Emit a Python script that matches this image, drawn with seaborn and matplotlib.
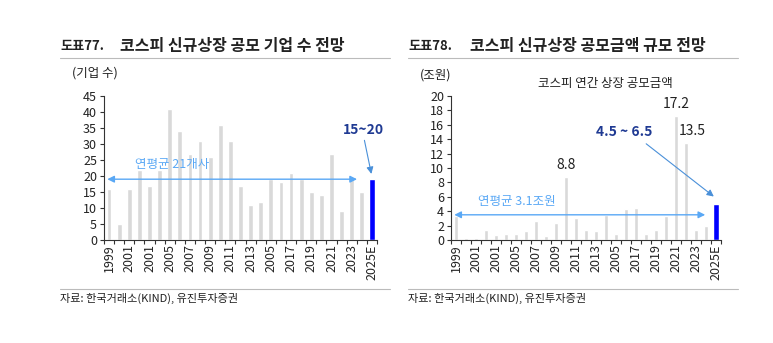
import matplotlib
matplotlib.use("Agg")
import matplotlib.pyplot as plt
import seaborn as sns
import pandas as pd
import numpy as np

# ---- data ----
years = [str(y) for y in range(1999, 2025)] + ["2025E"]
tick_labels = ["1999", "2001", "2001", "2005", "2007", "2009", "2011", "2013",
               "2005", "2017", "2019", "2021", "2023", "2025E"]
ipo_count = [16, 5, 16, 22, 17, 22, 41, 34, 27, 31, 26, 36, 31, 17, 11, 12,
             19, 18, 21, 19, 15, 14, 27, 9, 19, 15, 19]
ipo_amount = [3.3, 0.3, 0.3, 1.4, 0.7, 0.8, 0.9, 1.3, 2.6, 0.6, 2.3, 8.8,
              3.1, 1.4, 1.2, 3.5, 0.9, 4.3, 4.5, 0.9, 1.4, 3.4, 17.2, 13.5,
              1.4, 2.0, 5.0]
kind = ["actual"] * 26 + ["estimate"]

sns.set_theme(style="white")
plt.rcParams["font.family"] = ["Noto Sans CJK KR", "DejaVu Sans"]

W, H = 773, 343
fig = plt.figure(figsize=(W / 100, H / 100), dpi=100)

def px_axes(x0, y_top, x1, y_bot):
    return fig.add_axes([x0 / W, 1 - y_bot / H, (x1 - x0) / W, (y_bot - y_top) / H])

GRAY = "#d9d9d9"
BLUE = "#0000ff"
LBLUE = "#5aa8f5"
NAVY = "#1f3a93"
TXT = "#222222"

def draw(ax, values, ymax, ystep):
    df = pd.DataFrame({"year": years, "value": values, "kind": kind})
    sns.barplot(data=df[df.kind == "actual"], x="year", y="value", order=years,
                color=GRAY, width=0.48, saturation=1, ax=ax)
    sns.barplot(data=df[df.kind == "estimate"], x="year", y="value", order=years,
                color=BLUE, width=0.68, saturation=1, ax=ax)
    ax.set_xlim(-0.5, 26.5)
    ax.set_ylim(0, ymax)
    ax.set_yticks(np.arange(0, ymax + 0.01, ystep))
    ax.set_xticks(range(0, 27, 2))
    ax.set_xticklabels(tick_labels, rotation=90, fontsize=9, color=TXT)
    ax.set_xticks(np.arange(-0.5, 27, 1), minor=True)
    ax.tick_params(axis="x", which="major", length=0, pad=3)
    ax.tick_params(axis="x", which="minor", length=3, width=0.8, color="#333333", bottom=True)
    ax.tick_params(axis="y", length=3, width=0.8, color="#333333", left=True,
                   labelsize=9, labelcolor=TXT, pad=2)
    ax.set_xlabel("")
    ax.set_ylabel("")
    for s in ["top", "right"]:
        ax.spines[s].set_visible(False)
    for s in ["left", "bottom"]:
        ax.spines[s].set_color("#333333")
        ax.spines[s].set_linewidth(0.8)

# ---- left chart ----
ax1 = px_axes(104, 96, 377, 240)
draw(ax1, ipo_count, 45, 5)
ax1.annotate("", xy=(-0.45, 19), xytext=(24.8, 19),
             arrowprops=dict(arrowstyle="<|-|>", color=LBLUE, lw=1, mutation_scale=10))
ax1.text(2.6, 23.5, "연평균 21개사", color=LBLUE, fontsize=9, va="center")
ax1.text(25.2, 34.5, "15~20", color=NAVY, fontsize=10, fontweight="bold", ha="center", va="center")
ax1.annotate("", xy=(26, 19.8), xytext=(25.2, 32),
             arrowprops=dict(arrowstyle="-|>", color="#4a90d9", lw=0.8, mutation_scale=10))

# ---- right chart ----
ax2 = px_axes(451, 96, 721, 240)
draw(ax2, ipo_amount, 20, 2)
ax2.annotate("", xy=(-0.45, 3.5), xytext=(25.2, 3.5),
             arrowprops=dict(arrowstyle="<|-|>", color=LBLUE, lw=1, mutation_scale=10))
ax2.text(2.2, 5.3, "연평균 3.1조원", color=LBLUE, fontsize=9, va="center")
ax2.text(16.8, 15.0, "4.5 ~ 6.5", color=NAVY, fontsize=10, fontweight="bold", ha="center", va="center")
ax2.annotate("", xy=(26, 5.8), xytext=(18.8, 13.6),
             arrowprops=dict(arrowstyle="-|>", color="#4a90d9", lw=0.8, mutation_scale=10))
for i in [11, 22, 23]:
    v = ipo_amount[i]
    dx = 0.6 if i == 23 else 0
    ax2.text(i + dx, v + 0.7, f"{v}", fontsize=10, color=TXT, ha="center", va="bottom")

# ---- titles, units, sources ----
fig.text(60 / W, 1 - 46 / H, "도표77.", fontsize=9.5, fontweight="bold", color=TXT, va="center")
fig.text(120 / W, 1 - 46 / H, "코스피 신규상장 공모 기업 수 전망", fontsize=11.5, fontweight="bold", color=TXT, va="center")
fig.text(408 / W, 1 - 46 / H, "도표78.", fontsize=9.5, fontweight="bold", color=TXT, va="center")
fig.text(470 / W, 1 - 46 / H, "코스피 신규상장 공모금액 규모 전망", fontsize=11.5, fontweight="bold", color=TXT, va="center")
for x0, x1 in [(60, 390), (408, 738)]:
    fig.add_artist(plt.Line2D([x0 / W, x1 / W], [1 - 58 / H] * 2, color="#bbbbbb", lw=0.8))
    fig.add_artist(plt.Line2D([x0 / W, x1 / W], [1 - 289 / H] * 2, color="#bbbbbb", lw=0.8))

fig.text(72 / W, 1 - 73 / H, "(기업 수)", fontsize=9, color=TXT, va="center")
fig.text(420 / W, 1 - 75 / H, "(조원)", fontsize=9, color=TXT, va="center")
fig.text(538 / W, 1 - 83 / H, "코스피 연간 상장 공모금액", fontsize=9, color=TXT, va="center")
fig.text(60 / W, 1 - 298 / H, "자료: 한국거래소(KIND), 유진투자증권", fontsize=8, color=TXT, va="center")
fig.text(408 / W, 1 - 298 / H, "자료: 한국거래소(KIND), 유진투자증권", fontsize=8, color=TXT, va="center")

fig.savefig("out.png", dpi=100, facecolor="white")
